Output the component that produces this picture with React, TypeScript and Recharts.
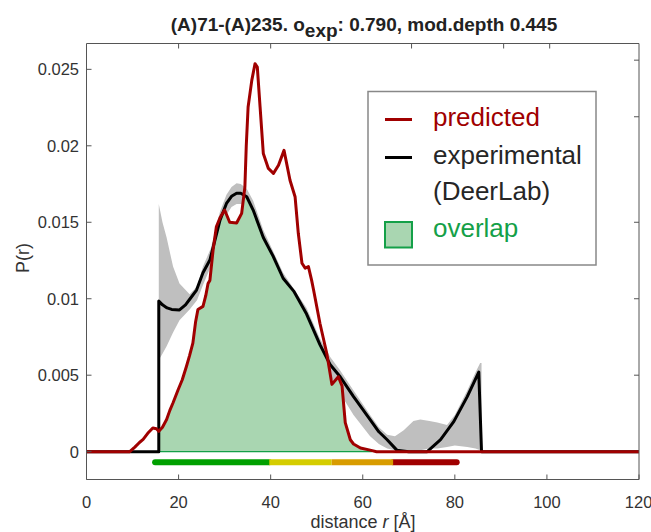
import { ComposedChart, Area, Line, XAxis, YAxis } from 'recharts'

// distance r [Å] and P(r)
const predictedR = [0, 9.4, 10.5, 11.5, 12.3, 13.3, 14.4, 15.2, 15.7, 16.5, 17.4, 18.1, 18.8, 19.9, 20.8, 21.7, 22.4, 23.1, 23.7, 24.2, 25.3, 25.9, 26.4, 26.8, 27.5, 28.2, 29.0, 30.0, 31.1, 32.6, 33.7, 34.4, 34.7, 35.1, 35.9, 36.6, 37.1, 37.7, 38.4, 39.5, 40.6, 41.7, 42.9, 44.2, 45.3, 46.0, 46.8, 47.5, 48.2, 48.9, 49.3, 50.7, 52.2, 53.3, 54.7, 55.5, 56.2, 57.3, 58.0, 59.5, 61.6, 63, 120]
const predictedP = [0, 0, 0.0003, 0.0006, 0.0008, 0.0012, 0.00155, 0.0015, 0.00133, 0.0016, 0.0021, 0.0027, 0.0032, 0.00405, 0.0047, 0.00557, 0.0063, 0.0071, 0.0085, 0.0093, 0.0095, 0.0102, 0.011, 0.0112, 0.0132, 0.0147, 0.0153, 0.0158, 0.015, 0.01495, 0.01558, 0.0173, 0.02, 0.02254, 0.02428, 0.02537, 0.02515, 0.02254, 0.0195, 0.01852, 0.0182, 0.01873, 0.0197, 0.01775, 0.01667, 0.01428, 0.01232, 0.012, 0.0121, 0.0112, 0.0106, 0.0084, 0.0064, 0.0044, 0.0049, 0.0043, 0.0019, 0.00078, 0.0005, 0.00024, 0.0001, 0, 0]

const experimentalR = [0, 15.7, 15.7, 16.5, 17.5, 18.5, 20.2, 21.5, 22.5, 23.9, 25.3, 26.8, 27.9, 29.0, 30.4, 31.5, 32.6, 33.5, 34.8, 36.2, 38.4, 40.5, 42.7, 45.0, 47.8, 50.7, 52.9, 55.1, 58.0, 61.6, 63.5, 65.3, 67.4, 70, 74, 76.9, 79.8, 82.7, 85.2, 85.8, 120]
const experimentalP = [0, 0, 0.00985, 0.0096, 0.0094, 0.0093, 0.00927, 0.0096, 0.01, 0.01057, 0.0117, 0.01253, 0.01384, 0.01514, 0.01623, 0.0167, 0.0169, 0.0169, 0.01667, 0.0158, 0.014, 0.0128, 0.01134, 0.0105, 0.009, 0.007, 0.0057, 0.0049, 0.0036, 0.0021, 0.0013, 0.00078, 0.0001, 0, 0, 0.00078, 0.00198, 0.0036, 0.0052, 0, 0]

const bandR = [15.7, 16.5, 17.4, 18.8, 20.2, 22.4, 24.0, 25.3, 27, 29, 30.4, 31.5, 32.6, 33.5, 34.8, 36.2, 38.4, 42.7, 47.8, 50.7, 52.9, 55.1, 58.0, 61.6, 63.5, 65.3, 67, 68.9, 71, 72.5, 74.5, 76.2, 78.3, 80, 82.7, 84.5, 85.5, 85.8]
const bandLow = [0.006, 0.0064, 0.0069, 0.0078, 0.0086, 0.0093, 0.0099, 0.0109, 0.0121, 0.0143, 0.0155, 0.016, 0.0162, 0.0162, 0.016, 0.0152, 0.0135, 0.011, 0.0086, 0.0066, 0.005, 0.0038, 0.0024, 0.001, 0.0005, 0.0002, 0.0001, 0.0001, 0.0001, 0.0001, 0.0002, 0.0002, 0.0003, 0.0004, 0.0003, 0.0002, 0.0001, 0]
const bandHigh = [0.0162, 0.015, 0.014, 0.0121, 0.011, 0.0103, 0.0108, 0.0121, 0.0133, 0.0157, 0.0168, 0.0173, 0.01755, 0.0175, 0.0172, 0.0164, 0.0145, 0.0117, 0.0094, 0.0074, 0.0062, 0.0053, 0.004, 0.0024, 0.0016, 0.0011, 0.001, 0.0014, 0.002, 0.0021, 0.002, 0.0019, 0.00175, 0.0024, 0.004, 0.0052, 0.0058, 0.0058]

const overlapR = [15.7, 16.5, 17.4, 18.1, 18.8, 19.9, 20.8, 21.7, 22.4, 23.1, 23.7, 24.2, 25.3, 25.9, 26.4, 26.8, 27.5, 28.2, 29.0, 30.0, 31.1, 32.6, 33.7, 34.2, 34.8, 36.2, 38.4, 40.5, 42.7, 45.0, 47.8, 50.7, 52.2, 53.3, 54.7, 55.5, 56.2, 57.3, 58.0, 59.5, 61.6, 62]
const overlapP = [0.00133, 0.0016, 0.0021, 0.0027, 0.0032, 0.00405, 0.0047, 0.00557, 0.0063, 0.0071, 0.0085, 0.0093, 0.0095, 0.0102, 0.011, 0.0112, 0.013, 0.0145, 0.0151, 0.0156, 0.015, 0.01495, 0.01558, 0.0167, 0.01667, 0.0158, 0.014, 0.0128, 0.01134, 0.0105, 0.009, 0.007, 0.006, 0.0044, 0.0049, 0.0043, 0.0019, 0.00078, 0.0005, 0.00024, 0.0001, 0]
const overlapSpan = [15.7, 62]

// colour bar under the curves
const scaleStops = [14.9, 39.7, 53.2, 66.6, 80.4]
const scaleColors = ['#00a000', '#d5cd00', '#d89c00', '#a00000']
const scaleLevel = -0.00069

const xTicks = [0, 20, 40, 60, 80, 100, 120]
const yTicks = [0, 0.005, 0.01, 0.015, 0.02, 0.025]
const topTicks = [20, 40, 70.6, 90.6, 100.6]
const rightTicks = [0.005, 0.01, 0.015, 0.0219, 0.0256]

const predicted = predictedR.map((r, i) => ({ r, p: predictedP[i] }))
const experimental = experimentalR.map((r, i) => ({ r, p: experimentalP[i] }))
const band = bandR.map((r, i) => ({ r, p: [bandLow[i], bandHigh[i]] }))
const overlap = overlapR.map((r, i) => ({ r, p: overlapP[i] }))
const overlapBase = overlapSpan.map((r) => ({ r, p: 0 }))
const segments = scaleColors.map((c, i) => ({
  color: c,
  data: [{ r: scaleStops[i], p: scaleLevel }, { r: scaleStops[i + 1], p: scaleLevel }],
}))

const frame = '#555'
const textCol = '#333'
const font = '"Liberation Sans", Arial, sans-serif'
const yDomain = [-0.00182, 0.02669]
// draw order so round caps at the ends stay and inner joints stay flat
const segOrder = [3, 2, 0, 1]

export default function App() {
  return (
    <div style={{ position: 'absolute', left: 0, top: 0, width: 651, height: 532, background: '#fff', fontFamily: font }}>
      <ComposedChart width={651} height={532} margin={{ top: 42.5, right: 11, bottom: 0, left: 0 }}>
        <XAxis
          xAxisId={0}
          dataKey="r"
          type="number"
          domain={[0, 120]}
          allowDataOverflow
          ticks={xTicks}
          height={52.5}
          tickSize={-5}
          tickMargin={22}
          stroke={frame}
          tick={{ fill: textCol, fontSize: 16.5, fontFamily: font }}
        />
        <XAxis
          xAxisId="top"
          orientation="top"
          dataKey="r"
          type="number"
          domain={[0, 120]}
          allowDataOverflow
          ticks={topTicks}
          height={1}
          tickSize={-5}
          tickFormatter={() => ''}
          stroke={frame}
        />
        <YAxis
          yAxisId={0}
          type="number"
          domain={yDomain}
          allowDataOverflow
          ticks={yTicks}
          width={86.5}
          tickSize={-5}
          tickMargin={12.5}
          stroke={frame}
          tick={{ fill: textCol, fontSize: 16.5, fontFamily: font }}
        />
        <YAxis
          yAxisId="right"
          orientation="right"
          type="number"
          domain={yDomain}
          allowDataOverflow
          ticks={rightTicks}
          width={1}
          tickSize={-5}
          tickFormatter={() => ''}
          stroke={frame}
        />
        <Area data={band} dataKey="p" type="linear" fill="#bfbfbf" fillOpacity={1} stroke="none" isAnimationActive={false} dot={false} activeDot={false} />
        <Area data={overlap} dataKey="p" type="linear" baseValue={0} fill="#a9d6b1" fillOpacity={1} stroke="none" isAnimationActive={false} dot={false} activeDot={false} />
        <Line data={overlapBase} dataKey="p" type="linear" stroke="#14a048" strokeWidth={1.3} dot={false} activeDot={false} isAnimationActive={false} />
        {segOrder.map((i) => (
          <Line
            key={i}
            xAxisId="top"
            yAxisId="right"
            data={segments[i].data}
            dataKey="p"
            type="linear"
            stroke={segments[i].color}
            strokeWidth={6}
            strokeLinecap={i === 0 || i === 3 ? 'round' : 'butt'}
            dot={false}
            activeDot={false}
            isAnimationActive={false}
          />
        ))}
        <Line data={experimental} dataKey="p" type="linear" stroke="#000" strokeWidth={3} strokeLinejoin="round" dot={false} activeDot={false} isAnimationActive={false} />
        <Line data={predicted} dataKey="p" type="linear" stroke="#a00000" strokeWidth={3} strokeLinejoin="round" dot={false} activeDot={false} isAnimationActive={false} />
      </ComposedChart>
      <svg width={651} height={532} style={{ position: 'absolute', left: 0, top: 0, pointerEvents: 'none' }}>
        <text x={364} y={31} textAnchor="middle" fontSize={19} fontWeight="bold" fill="#222" fontFamily={font}>
          (A)71-(A)235. o<tspan dy={6}>exp</tspan><tspan dy={-6}>: 0.790, mod.depth 0.445</tspan>
        </text>
        <text x={363} y={528} textAnchor="middle" fontSize={18} fill={textCol} fontFamily={font}>
          distance <tspan fontStyle="italic">r</tspan> [Å]
        </text>
        <text transform="translate(29,258) rotate(-90)" textAnchor="middle" fontSize={18} fill={textCol} fontFamily={font}>
          P(r)
        </text>
        <rect x={368} y={91.5} width={228} height={173.5} fill="#fff" stroke="#888" strokeWidth={1.5} />
        <line x1={385} x2={412} y1={119.5} y2={119.5} stroke="#a00000" strokeWidth={3} />
        <line x1={385} x2={412} y1={157.5} y2={157.5} stroke="#000" strokeWidth={3} />
        <rect x={385} y={222} width={27} height={25.5} fill="#a9d6b1" stroke="#14a048" strokeWidth={2} />
        <text x={433} y={126} fontSize={26} fill="#a00000" fontFamily={font}>predicted</text>
        <text x={433} y={164} fontSize={26} fill="#262626" fontFamily={font}>experimental</text>
        <text x={433} y={200} fontSize={26} fill="#262626" fontFamily={font}>(DeerLab)</text>
        <text x={433} y={237} fontSize={26} fill="#14a048" fontFamily={font}>overlap</text>
      </svg>
    </div>
  )
}
